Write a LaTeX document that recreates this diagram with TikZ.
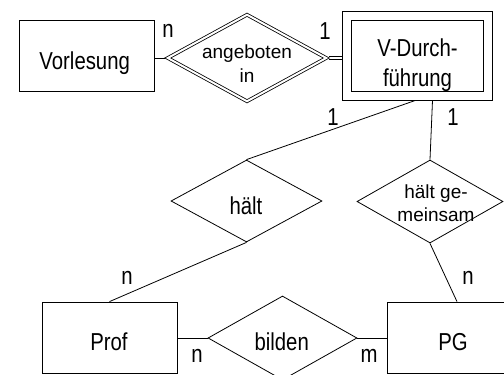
\documentclass[tikz,border=0pt]{standalone}
\usepackage{fontspec}
\newfontfamily\bigf{Liberation Sans}[FakeStretch=0.83]
\newfontfamily\smallf{Liberation Sans}
\usetikzlibrary{shapes.geometric,backgrounds}
\tikzset{
  ln/.style={line width=0.8pt, draw=black},
  ent/.style={ln, rectangle, inner sep=0pt, minimum width=135pt, minimum height=71pt},
  rel/.style={ln, diamond, inner sep=0pt, aspect=1.8},
  bigtxt/.style={font=\bigf\fontsize{24.5}{30}\selectfont, inner sep=0pt, text=black},
  smalltxt/.style={font=\smallf\fontsize{19}{24}\selectfont, inner sep=0pt, text=black},
  card/.style={bigtxt, anchor=center},
  conn/.style={line width=0.8pt, draw=black},
  dconn/.style={line width=0.8pt, draw=black, double=white, double distance=2.5pt}
}
\begin{document}
\begin{tikzpicture}[x=1pt,y=-1pt]
\path[use as bounding box] (0,0) rectangle (504,375);
\clip (0,0) rectangle (504,375);

% entities
\node[ent] (vorl) at (86.5,55.5) {};
\node[ln, rectangle, inner sep=0pt, minimum width=141pt, minimum height=80pt,
      double=white, double distance=8pt, outer sep=4.8pt] (vd) at (417.5,55.75) {};
\node[ent] (prof) at (109.5,337.5) {};
\node[ent] (pg) at (454.5,337.5) {};

% relationships
\node[rel, minimum width=160pt, minimum height=88pt, double=white, double distance=2pt, outer sep=1.8pt] (ang) at (247,58) {};
\node[rel, minimum width=151pt, minimum height=82pt] (halt) at (246.5,201) {};
\node[rel, minimum width=146pt, minimum height=83pt] (hg) at (430,201.5) {};
\node[rel, minimum width=149pt, minimum height=84pt] (bil) at (282.5,338) {};

% texts
\node[bigtxt, anchor=base] (tvorl) at (84.7,69.3) {Vorlesung};
\node[bigtxt, anchor=base] (tvd1) at (417.5,56.7) {V-Durch-};
\node[bigtxt, anchor=base] (tvd2) at (417.5,86.7) {führung};
\node[smalltxt, anchor=base] (tang1) at (247,58.3) {angeboten};
\node[smalltxt, anchor=base] (tang2) at (247,82.7) {in};
\node[bigtxt, anchor=base] (thalt) at (246,214) {hält};
\node[smalltxt, anchor=base] (thg1) at (436,198.3) {hält ge-};
\node[smalltxt, anchor=base] (thg2) at (436,221.7) {meinsam};
\node[bigtxt, anchor=base] (tprof) at (109,350) {Prof};
\node[bigtxt, anchor=base] (tbil) at (281.7,350) {bilden};
\node[bigtxt, anchor=base] (tpg) at (453,350) {PG};

% cardinalities
\node[card] (c1) at (168,31) {n};
\node[card] (c2) at (325,31) {1};
\node[card] (c3) at (333,117) {1};
\node[card] (c4) at (453,117) {1};
\node[card] (c5) at (127,278) {n};
\node[card] (c6) at (468,278) {n};
\node[card] (c7) at (197,356) {n};
\node[card] (c8) at (369,356) {m};

% connectors
\begin{scope}[on background layer]
\fill[white] (0,0) rectangle (504,375);
\draw[conn] (vorl.east |- ang.west) -- (ang.west);
\draw[dconn] (ang.east) -- (ang.east -| vd.west);
\draw[conn] ([xshift=-2.5pt]vd.south) -- (halt.north);
\draw[conn] ([xshift=15pt]vd.south) -- (hg.north);
\draw[conn] (halt.south) -- (prof.north);
\draw[conn] (hg.south) -- ([xshift=2.5pt]pg.north);
\draw[conn] (prof.east |- bil.west) -- (bil.west);
\draw[conn] (bil.east) -- (pg.west |- bil.east);
\end{scope}
\end{tikzpicture}
\end{document}
